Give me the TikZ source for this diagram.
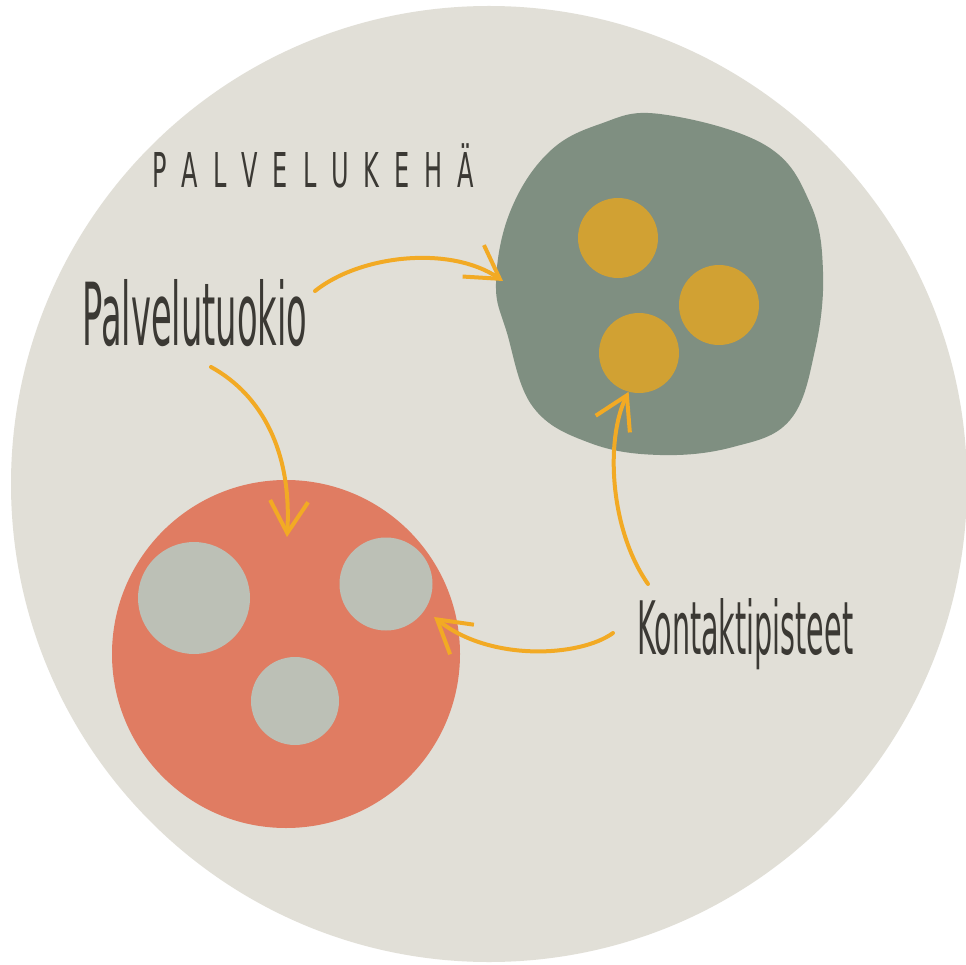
\documentclass[tikz,border=0pt]{standalone}
\usepackage{fontspec}
\setmainfont{DejaVu Sans}
\usetikzlibrary{arrows.meta}
\definecolor{bgC}{HTML}{E1DFD7}
\definecolor{greenC}{HTML}{7F8F81}
\definecolor{yellowC}{HTML}{D1A133}
\definecolor{redC}{HTML}{E07C62}
\definecolor{grayC}{HTML}{BCC0B6}
\definecolor{orangeC}{HTML}{F2AA24}
\definecolor{textC}{HTML}{3B3934}
\tikzset{
  dot/.style={circle, inner sep=0pt, minimum size=#1},
  ydot/.style={dot=#1, fill=yellowC},
  gdot/.style={dot=#1, fill=grayC},
  lbl/.style={inner sep=0pt, text=textC},
  arr/.style={draw=orangeC, line width=4pt, line cap=round,
    -{Straight Barb[length=32pt, width=38pt, line width=4pt]}},
}
\newcommand{\ls}{\hspace{30pt}}
\begin{document}
\begin{tikzpicture}[x=1pt,y=-1pt]
\useasboundingbox (0,0) rectangle (966,965);
\fill[white] (0,0) rectangle (966,965);
% service sphere
\node[dot=956pt, fill=bgC] (kehae) at (489,484) {};
% service moment (green blob)
\fill[greenC] plot[smooth cycle, tension=0.65] coordinates {
  (660,114) (765,145) (810,203) (823,272) (815,350) (790,420) (733,447)
  (660,455) (590,443) (533,407) (507,333) (496,283) (510,212) (548,153) (600,124)};
\coordinate (tuokio) at (660,285);
\node[ydot=80pt] (y1) at (618,238) {};
\node[ydot=80pt] (y2) at (719,305) {};
\node[ydot=80pt] (y3) at (639,353) {};
% red circle
\node[dot=348pt, fill=redC] (punainen) at (286,654) {};
\node[gdot=112pt] (g1) at (194,598) {};
\node[gdot=93pt] (g2) at (386,584) {};
\node[gdot=88pt] (g3) at (295,701) {};
% texts
\node[lbl, anchor=base west] (kehateksti) at (152,188)
  {\scalebox{0.5}[1]{\fontsize{48}{48}\selectfont P\ls A\ls L\ls V\ls E\ls L\ls U\ls K\ls E\ls H\ls Ä}};
\node[lbl, anchor=base west] (palvelu) at (82,346)
  {\resizebox{225pt}{66pt}{Palvelutuokio}};
\node[lbl, anchor=base west] (kontakti) at (637,654)
  {\resizebox{216pt}{56pt}{Kontaktipisteet}};
% connector ends
\coordinate (a1s) at (315,291);
\coordinate (a1e) at (503,281);
\coordinate (a2s) at (211,367);
\coordinate (a2e) at (287,537);
\coordinate (a3s) at (648,584);
\coordinate (a4s) at (613,633);
\coordinate (a4e) at (434,617);
% arrows
\draw[arr] (a1s) .. controls (360,255) and (450,245) .. (a1e);
\draw[arr] (a2s) .. controls (262,395) and (292,452) .. (a2e);
\draw[arr] (a3s) .. controls (610,530) and (605,440) .. (y3.-105);
\draw[arr] (a4s) .. controls (580,657) and (490,662) .. (a4e);
\end{tikzpicture}
\end{document}
